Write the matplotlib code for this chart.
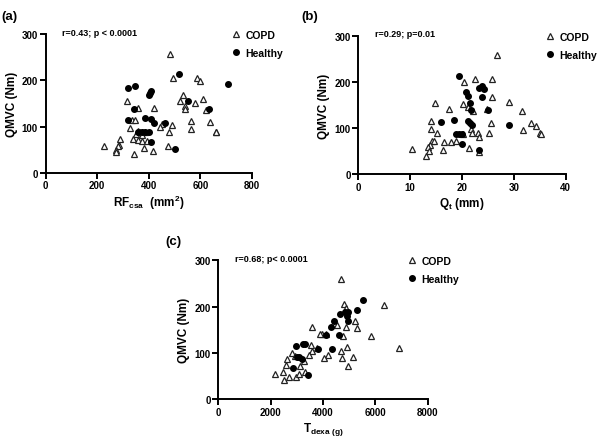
import matplotlib
matplotlib.use("Agg")
import matplotlib.pyplot as plt

plt.rcParams['font.family'] = ['Liberation Sans', 'DejaVu Sans']
plt.rcParams['font.weight'] = 'bold'
plt.rcParams['mathtext.fontset'] = 'custom'
plt.rcParams['mathtext.rm'] = 'Liberation Sans:bold'
plt.rcParams['mathtext.bf'] = 'Liberation Sans:bold'
plt.rcParams['mathtext.it'] = 'Liberation Sans:bold'
plt.rcParams['mathtext.default'] = 'bf'

# ---- Panel (a): RFcsa ----
copd_a_x = [481, 493, 587, 599, 315, 359, 419, 532, 521, 612, 581, 540, 541, 623, 563, 639, 564, 662, 660,
            333, 348, 328, 450, 442, 489, 477, 337, 352, 360, 366, 375, 386, 372, 357, 375, 392, 288, 284,
            226, 280, 271, 271, 344, 382, 418, 476]
copd_a_y = [258, 205, 205, 198, 155, 140, 141, 169, 156, 160, 150, 144, 137, 135, 112, 110, 95, 89, 88,
            115, 115, 97, 105, 100, 104, 89, 74, 84, 91, 89, 89, 88, 81, 71, 69, 68, 73, 61,
            58, 58, 50, 45, 40, 54, 47, 57]
healthy_a_x = [517, 707, 321, 345, 399, 409, 406, 343, 552, 632, 321, 387, 408, 419, 461, 359, 372, 386, 399, 408, 501]
healthy_a_y = [213, 192, 184, 187, 168, 178, 172, 138, 155, 138, 114, 118, 117, 107, 108, 89, 89, 88, 88, 66, 51]

# ---- Panel (b): Qt ----
copd_b_x = [26.7, 22.6, 25.8, 20.4, 25.8, 14.8, 29.1, 17.4, 20.2, 21.2, 22.2, 24.8, 31.5, 14.0, 25.5, 33.2,
            34.3, 31.8, 35.0, 14.0, 15.2, 21.7, 21.9, 23.1, 25.2, 23.3, 20.1, 14.2, 14.7, 16.5, 17.8, 18.8,
            13.8, 13.4, 13.6, 13.1, 10.3, 16.3, 21.4, 23.3, 35.2]
copd_b_y = [259, 206, 206, 199, 168, 155, 157, 141, 152, 145, 137, 142, 136, 115, 112, 112,
            105, 95, 89, 97, 90, 99, 90, 89, 89, 81, 87, 72, 73, 69, 69, 72,
            64, 59, 51, 40, 54, 53, 56, 47, 88]
healthy_b_x = [19.5, 20.7, 21.1, 21.5, 21.7, 23.9, 23.3, 24.2, 23.9, 25.1, 16.0, 18.4, 21.2, 21.5, 21.9,
               29.1, 18.8, 19.5, 20.0, 20.0, 23.3]
healthy_b_y = [213, 179, 170, 154, 139, 192, 188, 184, 168, 139, 114, 118, 116, 110, 107,
               107, 87, 88, 87, 66, 52]

# ---- Panel (c): Tdexa ----
copd_c_x = [4688, 4803, 6319, 4879, 5223, 4548, 5287, 4892, 3592, 3962, 4752, 5834, 6905, 4904, 3529, 3580,
            3771, 3465, 4204, 4038, 4701, 4714, 5147, 4955, 2611, 2815, 2586, 2943, 3121, 3274, 2471, 2153,
            2522, 2700, 2968, 3070, 3325, 4100, 3900]
copd_c_y = [260, 205, 204, 196, 169, 160, 153, 155, 155, 141, 137, 136, 111, 113, 118, 105,
            110, 96, 96, 90, 104, 90, 91, 72, 87, 101, 74, 93, 73, 83, 58, 55,
            41, 49, 48, 54, 58, 141, 140]
healthy_c_x = [5516, 5298, 4649, 4852, 4928, 4955, 4407, 4294, 4126, 4598, 4356, 3820, 2957, 3248, 3325,
               2995, 3083, 3200, 2866, 3439, 4950]
healthy_c_y = [214, 193, 184, 188, 179, 170, 170, 156, 139, 139, 108, 109, 114, 119, 119,
               91, 91, 88, 67, 52, 188]

panels = [
    dict(label='(a)', pos=[0.076, 0.604, 0.344, 0.316], cx=copd_a_x, cy=copd_a_y, hx=healthy_a_x, hy=healthy_a_y,
         xlim=(0, 800), xticks=[0, 200, 400, 600, 800], xlabel=r'RF$_{csa}$  (mm$^{2}$)',
         stat='r=0.43; p < 0.0001', lab_xy=(0.003, 0.975)),
    dict(label='(b)', pos=[0.597, 0.601, 0.346, 0.315], cx=copd_b_x, cy=copd_b_y, hx=healthy_b_x, hy=healthy_b_y,
         xlim=(0, 40), xticks=[0, 10, 20, 30, 40], xlabel=r'Q$_{t}$ (mm)',
         stat='r=0.29; p=0.01', lab_xy=(0.503, 0.975)),
    dict(label='(c)', pos=[0.364, 0.088, 0.349, 0.317], cx=copd_c_x, cy=copd_c_y, hx=healthy_c_x, hy=healthy_c_y,
         xlim=(0, 8000), xticks=[0, 2000, 4000, 6000, 8000], xlabel=r'T$_{dexa\ (g)}$',
         stat='r=0.68; p< 0.0001', lab_xy=(0.275, 0.462)),
]

fig = plt.figure(figsize=(6.0, 4.39), dpi=100)
for p in panels:
    ax = fig.add_axes(p['pos'])
    ax.plot(p['cx'], p['cy'], linestyle='none', marker='^', markersize=4.6, markerfacecolor='white',
            markeredgecolor='#222222', markeredgewidth=0.9, label='COPD', clip_on=False)
    ax.plot(p['hx'], p['hy'], linestyle='none', marker='o', markersize=4.0, markerfacecolor='black',
            markeredgecolor='black', label='Healthy', clip_on=False)
    ax.set_xlim(*p['xlim'])
    ax.set_ylim(0, 300)
    ax.set_xticks(p['xticks'])
    ax.set_yticks([0, 100, 200, 300])
    for s in ['top', 'right']:
        ax.spines[s].set_visible(False)
    for s in ['left', 'bottom']:
        ax.spines[s].set_linewidth(1.4)
    ax.tick_params(direction='out', length=4, width=1.4, labelsize=7, pad=1.5)
    for t in ax.get_xticklabels() + ax.get_yticklabels():
        t.set_fontweight('bold')
    ax.set_ylabel('QMVC (Nm)', fontsize=8.5, fontweight='bold', labelpad=3)
    ax.set_xlabel(p['xlabel'], fontsize=8.5, fontweight='bold', labelpad=2)
    ax.text(0.08, 1.015, p['stat'], transform=ax.transAxes, fontsize=6.5, fontweight='bold',
            ha='left', va='center')
    leg = ax.legend(loc='upper right', bbox_to_anchor=(1.17, 1.06), frameon=False, fontsize=7.5,
                    handletextpad=0.4, handlelength=1.0, labelspacing=0.75, borderaxespad=0.0)
    for t in leg.get_texts():
        t.set_fontweight('bold')
    fig.text(p['lab_xy'][0], p['lab_xy'][1], p['label'], fontsize=9.5, fontweight='bold',
             ha='left', va='top')

fig.savefig('out.png', dpi=100)
